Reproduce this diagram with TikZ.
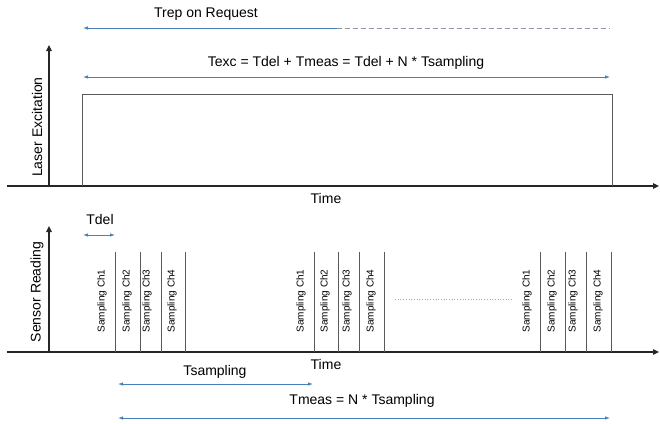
\documentclass[tikz,border=0pt]{standalone}
\usepackage{fontspec}
\setmainfont{Liberation Sans}
\usetikzlibrary{arrows.meta}
\definecolor{dimblue}{HTML}{4A7EBB}
\definecolor{linegray}{HTML}{5A5A5A}
\definecolor{dashgray}{HTML}{8C96A5}
\begin{document}
\begin{tikzpicture}[x=1pt,y=-1pt,
  axis/.style={line width=1.1pt, draw=black!85, -{Triangle[length=6pt,width=5.5pt]}},
  sig/.style={line width=0.9pt, draw=linegray},
  dimarrow/.style={line width=0.8pt, draw=dimblue, {Latex[length=5pt,width=3.5pt]}-{Latex[length=5pt,width=3.5pt]}},
  leftarrow/.style={line width=0.8pt, draw=dimblue, {Latex[length=5pt,width=3.5pt]}-},
  lbl/.style={font=\fontsize{14}{16}\selectfont, inner sep=0pt},
  samp/.style={font=\fontsize{10}{12}\selectfont, rotate=90, inner sep=0pt},
]
\useasboundingbox (0,0) rectangle (660,423);

% ---------- top panel ----------
\coordinate (ax1o) at (49,186);
\coordinate (ax1top) at (49,45);
\coordinate (ax1l) at (7,186);
\coordinate (ax1r) at (659,186);
\draw[axis] (ax1o) -- (ax1top);
\draw[axis] (ax1l) -- (ax1r);
\node[lbl, rotate=90] (laser) at (37,127) {Laser Excitation};
\node[lbl] (time1) at (326,198) {Time};

\coordinate (r1) at (82,186);
\coordinate (r2) at (82,94);
\coordinate (r3) at (612,94);
\coordinate (r4) at (612,186);
\draw[sig] (r1) -- (r2) -- (r3) -- (r4);

\coordinate (trepL) at (83,28);
\coordinate (trepM) at (337,28);
\coordinate (trepR) at (610,28);
\draw[leftarrow] (trepL) -- (trepM);
\draw[line width=0.8pt, draw=dashgray, dash pattern=on 5pt off 3pt] (trepM) -- (trepR);
\node[lbl] (trep) at (206,14) {Trep on Request};

\coordinate (texcL) at (83,77);
\coordinate (texcR) at (610,77);
\draw[dimarrow] (texcL) -- (texcR);
\node[lbl] (texc) at (346,63) {Texc = Tdel + Tmeas = Tdel + N * Tsampling};

% ---------- bottom panel ----------
\coordinate (ax2o) at (49,352);
\coordinate (ax2top) at (49,226);
\coordinate (ax2l) at (7,352);
\coordinate (ax2r) at (659,352);
\draw[axis] (ax2o) -- (ax2top);
\draw[axis] (ax2l) -- (ax2r);
\node[lbl, rotate=90] (sensor) at (37,292) {Sensor Reading};
\node[lbl] (time2) at (326,364) {Time};

\coordinate (tdelL) at (83,235);
\coordinate (tdelR) at (115,235);
\draw[dimarrow] (tdelL) -- (tdelR);
\node[lbl] (tdel) at (100,219) {Tdel};

\foreach \x [count=\i] in {115,140,161,185,314,338,359,384,540,565,586,611} {
  \coordinate (sl\i t) at (\x,252);
  \coordinate (sl\i b) at (\x,352);
  \draw[sig] (sl\i b) -- (sl\i t);
}
\foreach \x/\c [count=\i] in {102/1,127/2,147/3,172/4,301/1,325/2,347/3,371/4,527/1,552/2,573/3,598/4} {
  \node[samp] (sp\i) at (\x,301) {Sampling Ch\c};
}

\coordinate (dotL) at (395,299);
\coordinate (dotR) at (513,299);
\draw[line width=0.7pt, draw=gray!70, dotted] (dotL) -- (dotR);

\coordinate (tsL) at (118,384);
\coordinate (tsR) at (313,384);
\draw[dimarrow] (tsL) -- (tsR);
\node[lbl] (tsamp) at (215,372) {Tsampling};

\coordinate (tmL) at (118,418);
\coordinate (tmR) at (610,418);
\draw[dimarrow] (tmL) -- (tmR);
\node[lbl] (tmeas) at (362,401) {Tmeas = N * Tsampling};
\end{tikzpicture}
\end{document}
